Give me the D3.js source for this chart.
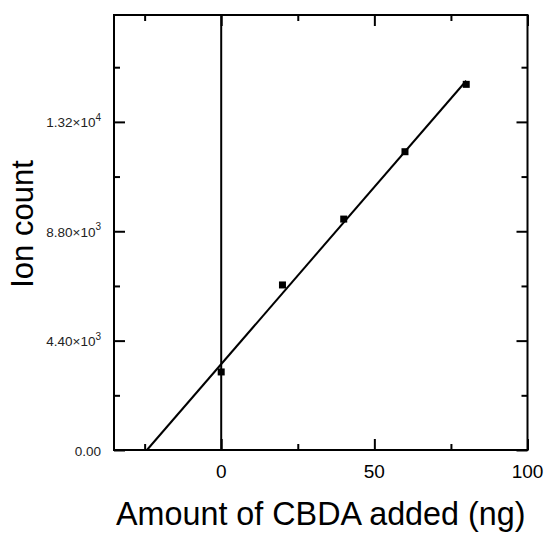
<!DOCTYPE html>
<html>
<head>
<meta charset="utf-8">
<script src="https://cdn.jsdelivr.net/npm/d3@7"></script>
<style>
  body { margin: 0; background: #fff; }
  svg { display: block; font-family: "Liberation Sans", Arial, sans-serif; }
</style>
</head>
<body>
<script>
// standard addition data
var amountAdded = [0, 20, 40, 60, 80];
var ionCount = [3140, 6640, 9290, 12000, 14710];

var xMajorTicks = [0, 50, 100];
var xMinorTicks = [-25, 25, 75];
var yMajorTicks = [0, 4400, 8800, 13200];
var yMinorTicks = [2200, 6600, 11000, 15400];
var yTickMantissa = ['0.00', '4.40', '8.80', '1.32'];
var yTickExponent = [null, '3', '3', '4'];

var width = 551,
  height = 533;
var margin = { top: 15, right: 23.5, bottom: 83, left: 114 };
var plotW = width - margin.left - margin.right,
  plotH = height - margin.top - margin.bottom;

var svg = d3
  .select('body')
  .append('svg')
  .attr('width', width)
  .attr('height', height);

var g = svg
  .append('g')
  .attr('transform', 'translate(' + margin.left + ',' + margin.top + ')');

var x = d3.scaleLinear().domain([-35, 100]).range([0, plotW]);
var y = d3.scaleLinear().domain([0, 17500]).range([plotH, 0]);

// least squares fit through the points
var mx = d3.mean(amountAdded),
  my = d3.mean(ionCount);
var sxy = d3.sum(amountAdded, function(d, i) {
  return (d - mx) * (ionCount[i] - my);
});
var sxx = d3.sum(amountAdded, function(d) {
  return (d - mx) * (d - mx);
});
var slope = sxy / sxx,
  intercept = my - slope * mx;
var xStart = -intercept / slope;

// ticks, all pointing inward
function tickAxis(axisFn, scale, values, size, transform) {
  g.append('g')
    .attr('class', 'axis')
    .attr('transform', transform || null)
    .call(
      axisFn(scale)
        .tickValues(values)
        .tickSize(-size)
        .tickSizeOuter(0)
        .tickFormat('')
    )
    .call(function(s) {
      s.select('.domain').remove();
      s.selectAll('line').attr('stroke', '#000').attr('stroke-width', 2);
    });
}

tickAxis(d3.axisBottom, x, xMajorTicks, 11, 'translate(0,' + plotH + ')');
tickAxis(d3.axisBottom, x, xMinorTicks, 6, 'translate(0,' + plotH + ')');
tickAxis(d3.axisTop, x, xMajorTicks, 11);
tickAxis(d3.axisTop, x, xMinorTicks, 6);
tickAxis(d3.axisLeft, y, yMajorTicks, 11);
tickAxis(d3.axisLeft, y, yMinorTicks, 6);
tickAxis(d3.axisRight, y, yMajorTicks, 11, 'translate(' + plotW + ',0)');
tickAxis(d3.axisRight, y, yMinorTicks, 6, 'translate(' + plotW + ',0)');

// vertical line at x = 0
g.append('line')
  .attr('x1', x(0))
  .attr('x2', x(0))
  .attr('y1', 0)
  .attr('y2', plotH)
  .attr('stroke', '#000')
  .attr('stroke-width', 2);

// fit line
g.append('line')
  .attr('x1', x(xStart))
  .attr('y1', y(0))
  .attr('x2', x(80))
  .attr('y2', y(intercept + slope * 80))
  .attr('stroke', '#000')
  .attr('stroke-width', 2);

// points
var sq = 7;
g.selectAll('rect.pt')
  .data(amountAdded)
  .enter()
  .append('rect')
  .attr('class', 'pt')
  .attr('x', function(d) {
    return x(d) - sq / 2;
  })
  .attr('y', function(d, i) {
    return y(ionCount[i]) - sq / 2;
  })
  .attr('width', sq)
  .attr('height', sq)
  .attr('fill', '#000');

// frame
g.append('rect')
  .attr('width', plotW)
  .attr('height', plotH)
  .attr('fill', 'none')
  .attr('stroke', '#000')
  .attr('stroke-width', 2);

// x tick labels
g.selectAll('text.xl')
  .data(xMajorTicks)
  .enter()
  .append('text')
  .attr('class', 'xl')
  .attr('x', function(d) {
    return x(d);
  })
  .attr('y', plotH + 28)
  .attr('text-anchor', 'middle')
  .attr('font-size', 19)
  .text(function(d) {
    return d;
  });

// y tick labels with superscript exponent
var yl = g
  .selectAll('text.yl')
  .data(yMajorTicks)
  .enter()
  .append('text')
  .attr('class', 'yl')
  .attr('x', -13)
  .attr('y', function(d) {
    return y(d) + 5.5;
  })
  .attr('text-anchor', 'end')
  .attr('font-size', 13.5)
  .attr('fill', '#222');

yl.append('tspan').text(function(d, i) {
  return yTickExponent[i] ? yTickMantissa[i] + '\u00d710' : yTickMantissa[i];
});
yl.filter(function(d, i) {
  return yTickExponent[i];
})
  .append('tspan')
  .attr('dy', -6.5)
  .attr('font-size', 10)
  .text(function(d) {
    return yTickExponent[yMajorTicks.indexOf(d)];
  });

// axis titles
svg
  .append('text')
  .attr('x', margin.left + plotW / 2)
  .attr('y', 525)
  .attr('text-anchor', 'middle')
  .attr('font-size', 32.3)
  .text('Amount of CBDA added (ng)');

svg
  .append('text')
  .attr('transform', 'translate(33,224) rotate(-90)')
  .attr('text-anchor', 'middle')
  .attr('font-size', 31)
  .text('Ion count');
</script>
</body>
</html>
